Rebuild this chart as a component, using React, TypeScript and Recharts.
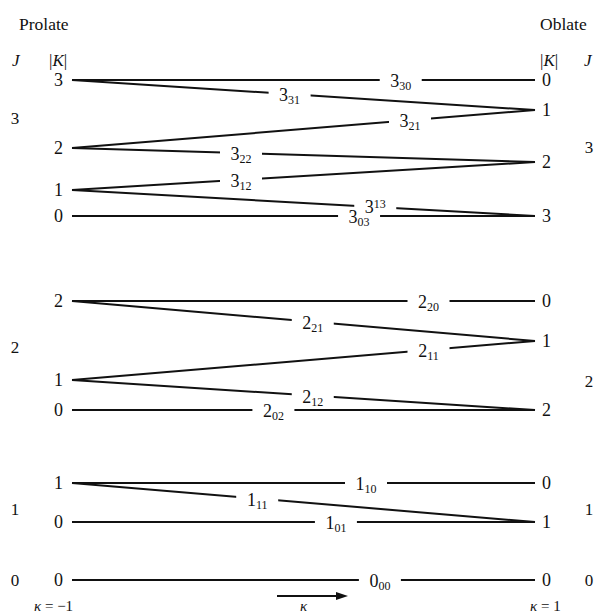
import React from "react";
import { LineChart, Line, XAxis, YAxis, ReferenceDot } from "recharts";

// asymmetric top levels J_{Ka Kc}: energy at prolate (kappa=-1) and oblate (kappa=+1) limits
const levelNames = ["3_30", "3_31", "3_21", "3_22", "3_12", "3_13", "3_03", "2_20", "2_21", "2_11", "2_12", "2_02", "1_10", "1_11", "1_01", "0_00"];
const prolateE = [50, 50, 43.2, 43.2, 39.0, 39.0, 36.4, 27.9, 27.9, 20.0, 20.0, 17.0, 9.7, 9.7, 5.8, 0];
const oblateE = [50, 47.0, 47.0, 41.8, 41.8, 36.4, 36.4, 27.9, 23.9, 23.9, 17.0, 17.0, 9.7, 5.8, 5.8, 0];
// where along kappa each level's label sits
const labelKappa = [0.42, -0.06, 0.46, -0.27, -0.27, 0.31, 0.24, 0.54, 0.04, 0.54, 0.04, -0.13, 0.27, -0.2, 0.14, 0.33];

const prolateTicks = [50, 43.2, 39.0, 36.4, 27.9, 20.0, 17.0, 9.7, 5.8, 0];
const prolateK = ["3", "2", "1", "0", "2", "1", "0", "1", "0", "0"];
const oblateTicks = [50, 47.0, 41.8, 36.4, 27.9, 23.9, 17.0, 9.7, 5.8, 0];
const oblateK = ["0", "1", "2", "3", "0", "1", "2", "0", "1", "0"];

const serif = "'Liberation Serif', 'DejaVu Serif', serif";
const ink = "#111";

const yAt = (i: number) => {
  const t = (labelKappa[i] + 1) / 2;
  return prolateE[i] + (oblateE[i] - prolateE[i]) * t;
};

const LabelGap = (props: any) => (
  <rect x={props.cx - 21} y={props.cy - 6} width={42} height={12} fill="#fff" />
);

const makeLabel = (name: string) => (props: any) => {
  const [main, sub] = name.split("_");
  // 3_13 is squeezed in above 3_03, so its index rides high
  const raised = name === "3_13";
  return (
    <text x={props.cx} y={props.cy + (raised ? 6 : 7)} textAnchor="middle" fontFamily={serif} fontSize={18} fill={ink}>
      {main}
      <tspan dy={raised ? -5 : 3} fontSize={12}>{sub}</tspan>
    </text>
  );
};

export default function App() {
  return (
    <div style={{ position: "absolute", left: 0, top: 0, width: 595, height: 615, background: "#fff" }}>
      <LineChart width={595} height={615} margin={{ top: 80, right: 0, bottom: 35, left: 0 }}>
        <XAxis dataKey="k" type="number" domain={[-1, 1]} hide />
        <YAxis
          yAxisId="left"
          type="number"
          domain={[0, 50]}
          ticks={prolateTicks}
          interval={0}
          width={72}
          axisLine={false}
          tickLine={false}
          tickSize={0}
          tickMargin={9}
          tickFormatter={(_v: number, i: number) => prolateK[i]}
          tick={{ fontFamily: serif, fontSize: 18, fill: ink }}
        />
        <YAxis
          yAxisId="right"
          orientation="right"
          type="number"
          domain={[0, 50]}
          ticks={oblateTicks}
          interval={0}
          width={60}
          axisLine={false}
          tickLine={false}
          tickSize={0}
          tickMargin={7}
          tickFormatter={(_v: number, i: number) => oblateK[i]}
          tick={{ fontFamily: serif, fontSize: 18, fill: ink, textAnchor: "start" }}
        />
        {levelNames.map((n, i) => (
          <Line
            key={n}
            yAxisId={i % 2 === 0 ? "left" : "right"}
            data={[{ k: -1, e: prolateE[i] }, { k: 1, e: oblateE[i] }]}
            dataKey="e"
            type="linear"
            stroke={ink}
            strokeWidth={2}
            dot={false}
            activeDot={false}
            isAnimationActive={false}
          />
        ))}
        {levelNames.map((n, i) => (
          <ReferenceDot key={"g" + n} yAxisId="left" x={labelKappa[i]} y={yAt(i)} ifOverflow="visible" shape={LabelGap} />
        ))}
        {levelNames.map((n, i) => (
          <ReferenceDot key={"t" + n} yAxisId="left" x={labelKappa[i]} y={yAt(i)} ifOverflow="visible" shape={makeLabel(n)} />
        ))}
      </LineChart>
      <svg width={595} height={615} style={{ position: "absolute", left: 0, top: 0, pointerEvents: "none" }}>
        <g fontFamily={serif} fill={ink} fontSize={17}>
          <text x={19} y={30} fontSize={17.5}>Prolate</text>
          <text x={540} y={30} fontSize={17.5}>Oblate</text>
          <text x={12} y={66} fontStyle="italic">J</text>
          <text x={49} y={66}>|<tspan fontStyle="italic">K</tspan>|</text>
          <text x={540} y={66}>|<tspan fontStyle="italic">K</tspan>|</text>
          <text x={584} y={66} fontStyle="italic">J</text>

          <text x={15} y={124} textAnchor="middle">3</text>
          <text x={15} y={353} textAnchor="middle">2</text>
          <text x={15} y={515} textAnchor="middle">1</text>
          <text x={15} y={586} textAnchor="middle">0</text>
          <text x={589} y={153} textAnchor="middle">3</text>
          <text x={589} y={387} textAnchor="middle">2</text>
          <text x={589} y={515} textAnchor="middle">1</text>
          <text x={589} y={586} textAnchor="middle">0</text>

          <text x={34} y={611} fontSize={15}><tspan fontStyle="italic">κ</tspan> = −1</text>
          <text x={530} y={611} fontSize={15}><tspan fontStyle="italic">κ</tspan> = 1</text>
          <text x={300} y={611} fontSize={15} fontStyle="italic">κ</text>
        </g>
        <line x1={277} y1={596} x2={338} y2={596} stroke={ink} strokeWidth={1.8} />
        <polygon points="348,596 336,592 336,600" fill={ink} />
      </svg>
    </div>
  );
}
